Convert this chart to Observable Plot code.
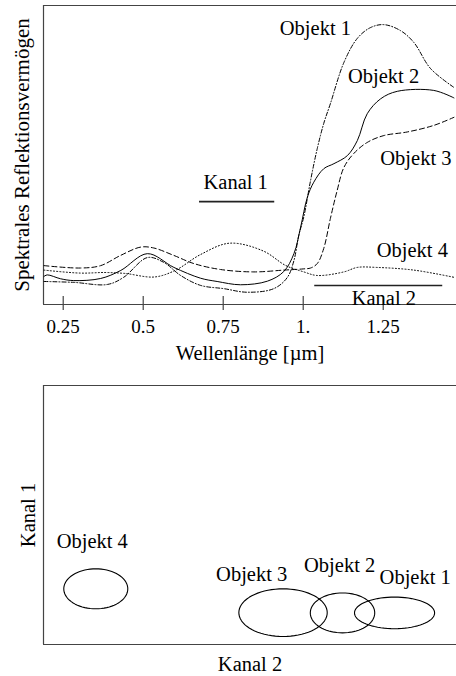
<!DOCTYPE html>
<html><head><meta charset="utf-8">
<script src="https://cdn.jsdelivr.net/npm/d3@7"></script>
<script src="https://cdn.jsdelivr.net/npm/@observablehq/plot@0.6"></script>
<style>body{margin:0;background:#fff;} svg{display:block;font-family:"Liberation Serif",serif !important;} svg text{font-family:"Liberation Serif",serif;} #wrap{width:456px;height:676px;overflow:hidden;}</style>
</head><body><div id="wrap"></div>
<script>
// ---- Spectral curves (wavelength in µm, reflectance in arbitrary %) ----
const wl1 = [0.19,0.283,0.388,0.439,0.513,0.564,0.617,0.679,0.752,0.825,0.908,0.95,0.971,0.986,1.002,1.023,1.044,1.064,1.085,1.127,1.169,1.21,1.252,1.304,1.346,1.398,1.471];
const r1  = [7.7,7.4,6.7,9.1,15.7,14.1,9.7,6.4,5.3,4.1,5.3,9.0,14.7,23.1,29.4,41.5,52.2,60.5,67.2,80.9,89.0,92.6,93.6,91.6,87.6,78.9,72.6];
const wl2 = [0.19,0.20,0.242,0.283,0.367,0.43,0.513,0.596,0.679,0.731,0.804,0.888,0.939,0.971,0.992,1.013,1.033,1.064,1.096,1.138,1.169,1.2,1.242,1.294,1.408,1.471];
const r2  = [9.4,9.9,8.6,8.0,8.7,11.4,17.0,12.4,8.8,7.7,6.6,7.8,11.0,17.0,25.9,35.9,40.9,45.4,47.1,49.8,54.8,63.8,68.8,71.3,71.6,69.1];
const wl3 = [0.19,0.304,0.367,0.429,0.492,0.533,0.596,0.658,0.742,0.846,0.939,1.0,1.023,1.044,1.064,1.085,1.106,1.127,1.158,1.2,1.252,1.325,1.408,1.471];
const r3  = [13.0,12.2,13.0,16.4,19.2,18.9,16.4,13.7,11.7,10.9,11.5,11.9,12.2,13.7,18.7,28.8,38.1,45.8,50.5,54.2,56.5,57.7,59.9,62.6];
const wl4 = [0.19,0.304,0.379,0.442,0.535,0.6,0.679,0.77,0.875,0.946,1.002,1.044,1.127,1.169,1.23,1.346,1.471];
const r4  = [11.5,10.5,10.7,10.4,9.2,11.4,16.7,20.5,17.9,13.0,10.9,9.7,10.9,12.4,12.4,11.5,9.1];
const objectNames = ["Objekt 1","Objekt 2","Objekt 3","Objekt 4"];
const dashes = ["4,2,1,2", null, "5,3", "1,2.2"];

// x-axis ticks
const tickValues = [0.25, 0.5, 0.75, 1, 1.25];
const tickLabels = ["0.25", "0.5", "0.75", "1.", "1.25"];

// sensor channels (wavelength range, marker level)
const channelNames = ["Kanal 1", "Kanal 2"];
const channelStart = [0.676, 1.036];
const channelEnd   = [0.911, 1.436];
const channelLevel = [34.4, 6.35];

// label anchors in the spectral panel
const specLabelText = ["Objekt 1","Objekt 2","Objekt 3","Objekt 4","Kanal 1","Kanal 2"];
const specLabelX = [1.038, 1.251, 1.352, 1.341, 0.789, 1.252];
const specLabelY = [90.3, 74.0, 46.5, 15.8, 38.5, -0.3];

// ---- Feature space (Kanal 2 vs Kanal 1) ----
const clusterNames = ["Objekt 1","Objekt 2","Objekt 3","Objekt 4"];
const clusterK2 = [85.0, 72.4, 58.0, 12.66];
const clusterK1 = [12.2, 12.2, 12.3, 21.5];
const clusterRx = [9.7, 7.8, 10.7, 7.75];
const clusterRy = [6.1, 7.7, 9.2, 7.72];
const clusterLabelX = [90.0, 71.7, 50.4, 11.8];
const clusterLabelY = [23.4, 27.9, 24.7, 37.3];

// ---- build tables ----
const series = [];
[[wl1,r1],[wl2,r2],[wl3,r3],[wl4,r4]].forEach(([w,r],k) => {
  w.forEach((x,i) => series.push({name: objectNames[k], k, wl: x, r: r[i]}));
});
const channels = channelNames.map((n,i) => ({name:n, x1:channelStart[i], x2:channelEnd[i], y:channelLevel[i]}));
const specLabels = specLabelText.map((t,i) => ({t, x:specLabelX[i], y:specLabelY[i]}));

const FONT = "Liberation Serif";
const FRAME = "#444";
const xDomain = [0.1884, 1.479];

const spectralPlot = Plot.plot({
  width: 456, height: 372,
  marginLeft: 43, marginRight: 0, marginTop: 5, marginBottom: 68,
  style: "font-family: 'Liberation Serif', serif; font-size: 19px; background: white; color: black;",
  x: {domain: xDomain},
  y: {domain: [0, 100], axis: null},
  marks: [
    Plot.ruleY([0], {stroke: FRAME, strokeWidth: 1.2}),
    Plot.ruleY([100], {stroke: FRAME, strokeWidth: 1.2}),
    Plot.ruleX([xDomain[0]], {stroke: FRAME, strokeWidth: 1.2}),
    Plot.ruleX(tickValues, {y1: -2, y2: 2.7, stroke: FRAME, strokeWidth: 1.2}),
    Plot.axisX({ticks: tickValues, tickFormat: d => tickLabels[tickValues.indexOf(d)], tickSize: 0, tickPadding: 15, fontSize: 19, fontFamily: FONT, label: null}),
    ...objectNames.map((n,k) => Plot.line(series.filter(d => d.k === k), {
      x: "wl", y: "r", stroke: "black", strokeWidth: 1, curve: "catmull-rom",
      strokeDasharray: dashes[k]
    })),
    Plot.ruleY(channels, {x1: "x1", x2: "x2", y: "y", stroke: "#222", strokeWidth: 1.6}),
    Plot.text(specLabels, {x: "x", y: "y", text: "t", textAnchor: "middle", lineAnchor: "bottom", fontSize: 20.5, fontFamily: FONT, fill: "black"}),
    Plot.text(["Wellenlänge [µm]"], {frameAnchor: "bottom", dy: 55, lineAnchor: "bottom", fontSize: 20.5, fontFamily: FONT, fill: "black"}),
    Plot.text(["Spektrales Reflektionsvermögen"], {frameAnchor: "left", dx: -21.3, rotate: -90, lineAnchor: "middle", textAnchor: "middle", fontSize: 21, fontFamily: FONT, fill: "black"})
  ]
});

// ellipse outlines built from each cluster's centre and radii
const ellipsePts = [];
clusterNames.forEach((n,i) => {
  for (let a = 0; a <= 72; a++) {
    const t = a / 72 * 2 * Math.PI;
    ellipsePts.push({name: n, x: clusterK2[i] + clusterRx[i]*Math.cos(t), y: clusterK1[i] + clusterRy[i]*Math.sin(t)});
  }
});
const clusterLabels = clusterNames.map((n,i) => ({t:n, x:clusterLabelX[i], y:clusterLabelY[i]}));

const featurePlot = Plot.plot({
  width: 456, height: 304,
  marginLeft: 43, marginRight: 0, marginTop: 13, marginBottom: 32,
  style: "font-family: 'Liberation Serif', serif; font-size: 20px; background: white; color: black;",
  x: {domain: [0, 100], axis: null},
  y: {domain: [0, 100], axis: null},
  marks: [
    Plot.ruleY([0], {stroke: FRAME, strokeWidth: 1.2}),
    Plot.ruleY([100], {stroke: FRAME, strokeWidth: 1.2}),
    Plot.ruleX([0], {stroke: FRAME, strokeWidth: 1.2}),
    Plot.line(ellipsePts, {x: "x", y: "y", z: "name", stroke: "black", strokeWidth: 1.1, curve: "linear"}),
    Plot.text(clusterLabels, {x: "x", y: "y", text: "t", textAnchor: "middle", lineAnchor: "bottom", fontSize: 20.5, fontFamily: FONT, fill: "black"}),
    Plot.text(["Kanal 2"], {frameAnchor: "bottom", dy: 26, lineAnchor: "bottom", fontSize: 20.5, fontFamily: FONT, fill: "black"}),
    Plot.text(["Kanal 1"], {frameAnchor: "left", dx: -15.5, rotate: -90, lineAnchor: "middle", textAnchor: "middle", fontSize: 20.5, fontFamily: FONT, fill: "black"})
  ]
});

const wrap = document.getElementById("wrap");
wrap.appendChild(spectralPlot);
wrap.appendChild(featurePlot);
</script>
</body></html>
